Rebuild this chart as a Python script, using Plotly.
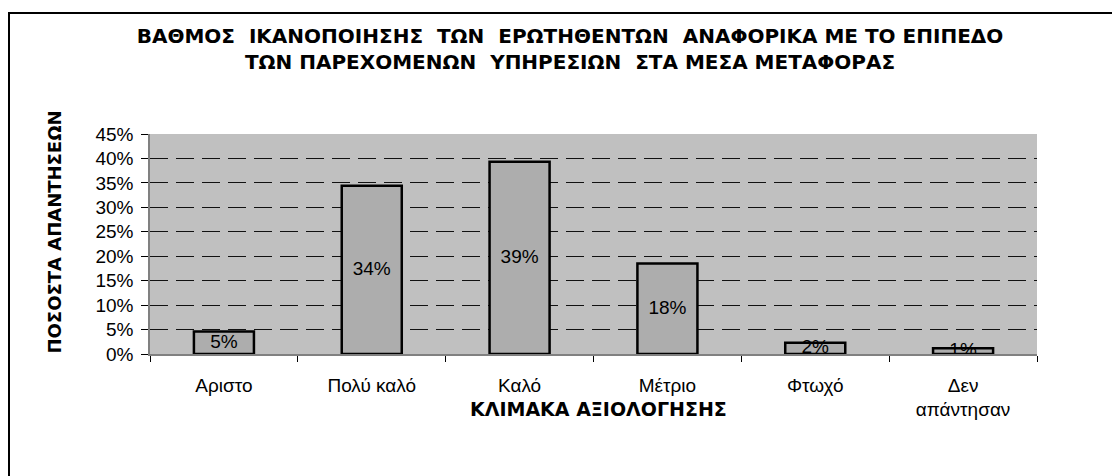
import plotly.graph_objects as go

categories = ["Αριστο", "Πολύ καλό", "Καλό", "Μέτριο", "Φτωχό", "Δεν<br>απάντησαν"]
values = [4.6, 34.4, 39.3, 18.5, 2.3, 1.2]
labels = ["5%", "34%", "39%", "18%", "2%", "1%"]
ytick_vals = [0, 5, 10, 15, 20, 25, 30, 35, 40, 45]
ytick_text = [f"{v}%" for v in ytick_vals]

# page offset of the figure (default body margin)
OFF = 8
W, H = 1112, 468
L, R, T, B = 150 - OFF, 83, 134 - OFF, 122
pw, ph = W - L - R, H - T - B

def px2paper_x(px):
    return (px - OFF - L) / pw

def px2paper_y(py):
    return (H - B - (py - OFF)) / ph

fig = go.Figure()
fig.add_trace(go.Bar(
    x=categories, y=values,
    marker=dict(color="#ADADAD", line=dict(color="#000000", width=2.5)),
    hoverinfo="skip",
))
fig.add_trace(go.Scatter(
    x=categories, y=[v / 2 for v in values], text=labels,
    mode="text", textposition="middle center",
    textfont=dict(family="Liberation Sans, Arial", size=19, color="#000"),
    cliponaxis=False, hoverinfo="skip",
))

fig.update_layout(
    width=W, height=H,
    margin=dict(l=L, r=R, t=T, b=B, autoexpand=False),
    paper_bgcolor="white", plot_bgcolor="#C0C0C0",
    showlegend=False, bargap=0.594,
    title=dict(
        text="ΒΑΘΜΟΣ  ΙΚΑΝΟΠΟΙΗΣΗΣ  ΤΩΝ  ΕΡΩΤΗΘΕΝΤΩΝ  ΑΝΑΦΟΡΙΚΑ ΜΕ ΤΟ ΕΠΙΠΕΔΟ<br>ΤΩΝ ΠΑΡΕΧΟΜΕΝΩΝ  ΥΠΗΡΕΣΙΩΝ  ΣΤΑ ΜΕΣΑ ΜΕΤΑΦΟΡΑΣ",
        x=(570 - OFF) / W, xanchor="center", xref="container",
        y=1 - (43 - OFF) / H, yanchor="top", yref="container",
        font=dict(family="DejaVu Sans", size=20, color="#000", weight="bold"),
    ),
    xaxis=dict(
        tickfont=dict(family="Liberation Sans, Arial", size=19, color="#000"),
        showline=True, linecolor="#808080", linewidth=1.5,
        ticks="outside", tickson="boundaries", ticklen=6, tickcolor="#000",
        ticklabelstandoff=13, showgrid=False,
    ),
    yaxis=dict(
        range=[0, 45], tickvals=ytick_vals, ticktext=ytick_text,
        tickfont=dict(family="Liberation Sans, Arial", size=19, color="#000"),
        showline=True, linecolor="#808080", linewidth=1.5,
        ticks="outside", ticklen=7, tickcolor="#000",
        showgrid=True, gridcolor="#111", gridwidth=1, griddash="18px,8px",
        zeroline=False, ticklabelstandoff=4,
    ),
    annotations=[
        dict(text="ΚΛΙΜΑΚΑ ΑΞΙΟΛΟΓΗΣΗΣ", x=px2paper_x(598), y=px2paper_y(422),
             xref="paper", yref="paper", showarrow=False,
             font=dict(family="DejaVu Sans", size=19, color="#000", weight="bold")),
        dict(text="ΠΟΣΟΣΤΑ ΑΠΑΝΤΗΣΕΩΝ", x=px2paper_x(41), y=px2paper_y(232),
             xref="paper", yref="paper", showarrow=False, textangle=-90,
             font=dict(family="DejaVu Sans", size=18, color="#000", weight="bold")),
    ],
    shapes=[
        # left frame edge
        dict(type="rect", xref="paper", yref="paper", layer="above",
             x0=px2paper_x(OFF), x1=px2paper_x(OFF + 2),
             y0=px2paper_y(476), y1=px2paper_y(12),
             fillcolor="#000", line=dict(width=0)),
        # top frame edge
        dict(type="rect", xref="paper", yref="paper", layer="above",
             x0=px2paper_x(OFF), x1=px2paper_x(1118),
             y0=px2paper_y(14), y1=px2paper_y(12),
             fillcolor="#000", line=dict(width=0)),
    ],
)

fig.write_html("out.html", config={"displayModeBar": False})
